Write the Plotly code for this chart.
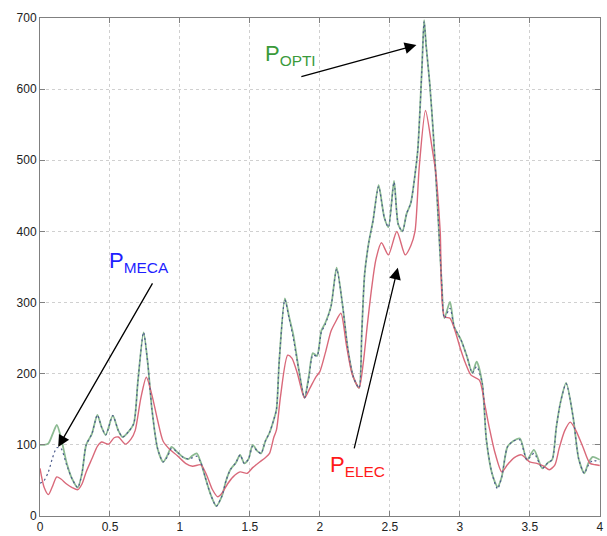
import plotly.graph_objects as go

# P_OPTI (green)
x_opti = [0, 0.03, 0.06, 0.09, 0.12, 0.15, 0.19, 0.23, 0.27, 0.30,
          0.33, 0.37, 0.41, 0.44, 0.47, 0.52, 0.56, 0.59, 0.63, 0.67,
          0.70, 0.74, 0.77, 0.80, 0.84, 0.88, 0.91, 0.94, 0.98, 1.02,
          1.06, 1.09, 1.12, 1.15, 1.18, 1.22, 1.26, 1.30, 1.33, 1.36,
          1.40, 1.43, 1.46, 1.49, 1.52, 1.55, 1.58, 1.61, 1.64, 1.67,
          1.69, 1.71, 1.75, 1.78, 1.81, 1.85, 1.89, 1.92, 1.95, 1.98,
          2.01, 2.04, 2.08, 2.12, 2.16, 2.20, 2.24, 2.28, 2.30, 2.32,
          2.35, 2.38, 2.42, 2.46, 2.49, 2.53, 2.56, 2.59, 2.62, 2.65,
          2.68, 2.70, 2.73, 2.745, 2.76, 2.785, 2.81, 2.84, 2.87, 2.89,
          2.93, 2.96, 3.01, 3.05, 3.09, 3.12, 3.16, 3.19, 3.23, 3.27,
          3.30, 3.34, 3.38, 3.43, 3.48, 3.53, 3.59, 3.63, 3.66, 3.69,
          3.72, 3.76, 3.81, 3.85, 3.89, 3.92, 3.95, 4.0]
p_opti = [100, 100, 102, 115, 128, 110, 75, 52, 40, 60,
          100, 115, 142, 125, 114, 141, 120, 111, 118, 130,
          190, 258, 215, 150, 95, 76, 85, 97, 90, 83,
          80, 85, 88, 75, 55, 30, 14, 28, 50, 65,
          75, 86, 74, 80, 100, 92, 88, 105, 117, 135,
          150, 219, 306, 280, 255, 205, 166, 195, 229, 225,
          260, 272, 295, 349, 300, 235, 195, 180, 260, 340,
          385, 415, 465, 420, 406, 471, 410, 400, 425, 440,
          480, 515, 632, 697, 660, 608, 540, 440, 330, 278,
          301, 266, 247, 225, 201, 217, 187, 107, 60, 41,
          55, 97, 105, 109, 79, 93, 67, 75, 79, 125,
          160, 187, 139, 80, 60, 75, 83, 79]

# P_MECA (blue, dashed) - same sampling as P_OPTI
p_meca = [46, 50, 62, 82, 96, 95, 72, 52, 40, 60,
          100, 115, 142, 125, 114, 141, 120, 111, 118, 130,
          190, 258, 215, 150, 95, 76, 83, 95, 90, 83,
          80, 82, 84, 75, 55, 30, 14, 28, 50, 65,
          75, 86, 74, 80, 98, 92, 88, 105, 117, 135,
          150, 219, 304, 278, 250, 205, 166, 192, 226, 225,
          258, 270, 295, 347, 300, 235, 195, 180, 260, 340,
          385, 415, 463, 420, 406, 469, 410, 400, 425, 440,
          480, 515, 632, 695, 660, 608, 540, 440, 330, 278,
          292, 266, 247, 225, 201, 210, 187, 107, 60, 38,
          55, 97, 105, 107, 79, 88, 67, 75, 79, 125,
          160, 186, 139, 80, 60, 72, 78, 76]

# P_ELEC (red)
x_elec = [0, 0.03, 0.06, 0.09, 0.12, 0.15, 0.19, 0.23, 0.27, 0.30,
          0.33, 0.37, 0.41, 0.44, 0.49, 0.53, 0.56, 0.61, 0.65, 0.68,
          0.72, 0.76, 0.80, 0.84, 0.88, 0.93, 0.98, 1.04, 1.09, 1.15,
          1.19, 1.23, 1.27, 1.30, 1.34, 1.38, 1.43, 1.48, 1.52, 1.57,
          1.61, 1.64, 1.67, 1.69, 1.72, 1.77, 1.80, 1.84, 1.89, 1.93,
          1.97, 2.00, 2.04, 2.08, 2.11, 2.15, 2.19, 2.23, 2.28, 2.31,
          2.34, 2.37, 2.40, 2.44, 2.49, 2.55, 2.61, 2.65, 2.68, 2.71,
          2.755, 2.80, 2.83, 2.86, 2.89, 2.93, 2.97, 3.00, 3.04, 3.08,
          3.14, 3.18, 3.21, 3.25, 3.30, 3.34, 3.39, 3.44, 3.50, 3.55,
          3.60, 3.64, 3.68, 3.71, 3.75, 3.79, 3.83, 3.88, 3.93, 3.97,
          4.0]
p_elec = [67, 40, 30, 42, 55, 52, 45, 40, 37, 45,
          62, 80, 98, 104, 101, 110, 111, 101, 108, 120,
          165, 195, 170, 135, 105, 93, 85, 74, 70, 72,
          58, 38, 27, 32, 45, 55, 62, 60, 68, 76,
          82, 88, 110, 121, 170, 226, 222, 200, 166, 180,
          195, 203, 230, 260, 272, 285, 240, 200, 180, 215,
          270, 320, 360, 384, 367, 400, 367, 380, 400, 490,
          570, 520, 480, 400, 280, 278, 258, 238, 215, 198,
          191, 155, 125, 90, 62, 72, 82, 86, 76, 74,
          70, 65, 72, 95, 120, 132, 120, 97, 74, 72,
          71]

x_ticks = [0, 0.5, 1, 1.5, 2, 2.5, 3, 3.5, 4]
y_ticks = [0, 100, 200, 300, 400, 500, 600, 700]

fig = go.Figure()

fig.add_trace(go.Scatter(x=x_opti, y=p_opti, mode='lines', name='P_OPTI',
                         line=dict(color='#8cba92', width=1.8, shape='spline', smoothing=0.7)))
fig.add_trace(go.Scatter(x=x_elec, y=p_elec, mode='lines', name='P_ELEC',
                         line=dict(color='#d9697a', width=1.4, shape='spline', smoothing=0.7)))
fig.add_trace(go.Scatter(x=x_opti, y=p_meca, mode='lines', name='P_MECA',
                         line=dict(color='#4a5a8c', width=1.2, dash='2px,3px',
                                   shape='spline', smoothing=0.7)))

label_font = 'Liberation Sans, Arial, sans-serif'

# labels
labels = [
    ('P<sub>MECA</sub>', 0.71, 357, '#1f1fff'),
    ('P<sub>OPTI</sub>', 1.79, 648, '#3a9a3a'),
    ('P<sub>ELEC</sub>', 2.27, 70, '#ff1a1a'),
]
for txt, lx, ly, col in labels:
    fig.add_annotation(x=lx, y=ly, text=txt, showarrow=False,
                       font=dict(family=label_font, size=22, color=col))

# arrows (tail -> head)
arrows = [
    (0.81, 329, 0.13, 97),
    (1.857, 617, 2.69, 662),
    (2.243, 93, 2.557, 349),
]
for tx, ty, hx, hy in arrows:
    fig.add_annotation(x=hx, y=hy, ax=tx, ay=ty, xref='x', yref='y',
                       axref='x', ayref='y', text='', showarrow=True,
                       arrowhead=2, arrowsize=1.8, arrowwidth=1.3,
                       arrowcolor='black')

axis_style = dict(
    showline=True, linecolor='#808080', linewidth=1, mirror='ticks',
    ticks='inside', ticklen=5, tickcolor='#808080',
    showgrid=True, gridcolor='#d0d0d0', griddash='dot', gridwidth=1,
    zeroline=False, automargin=False,
    tickfont=dict(family=label_font, size=12, color='#222222'),
)

fig.update_xaxes(range=[0, 4.002], tickvals=x_ticks, ticktext=[str(t) for t in x_ticks],
                 ticklabeloverflow='allow', **axis_style)
fig.update_yaxes(range=[0, 700], tickvals=y_ticks, **axis_style)

fig.update_layout(
    width=607, height=536,
    margin=dict(l=40, r=7, t=18, b=20),
    paper_bgcolor='white', plot_bgcolor='white',
    showlegend=False,
)

# page body has a default 8px margin; drop it so the figure fills the window
fig.write_html("out.html", config={'displayModeBar': False},
               post_script="document.body.style.margin='0';")
